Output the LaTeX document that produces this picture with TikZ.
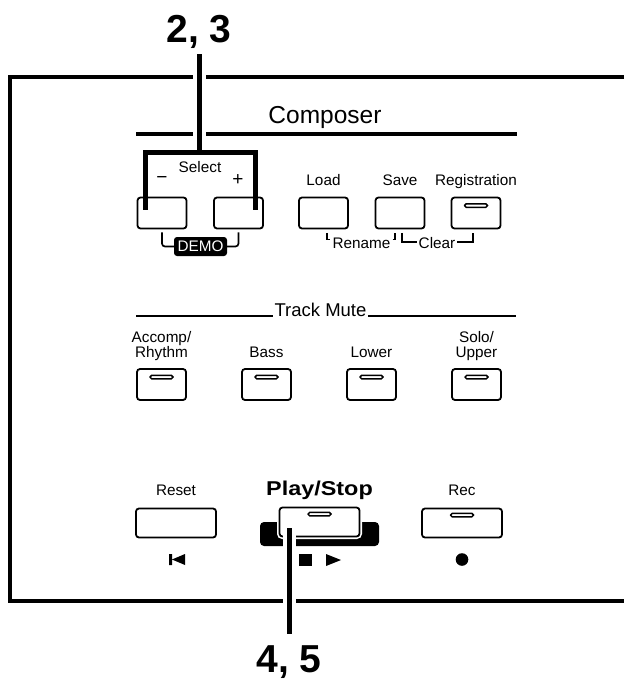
\documentclass[tikz,border=0pt]{standalone}
\usepackage{fontspec}
\setmainfont{Liberation Sans}
\usetikzlibrary{positioning}

\begin{document}
\begin{tikzpicture}[
  x=1pt, y=-1pt,
  lbl/.style={font=\fontsize{15.3}{15}\selectfont, inner sep=0pt, text depth=0pt, align=center},
  num/.style={font=\fontsize{39}{40}\selectfont\bfseries, inner sep=0pt, text depth=0pt},
  btn/.style={draw, line width=1.8pt, rounded corners=3pt, fill=white, inner sep=0pt,
              minimum width=49pt, minimum height=31pt},
  wide/.style={btn, minimum width=80pt, minimum height=29pt},
  led/.style={draw, line width=1.5pt, rounded corners=1.7pt, fill=white, inner sep=0pt,
              minimum width=23pt, minimum height=3.5pt},
  hook/.style={line width=1.5pt},
  leader/.style={line width=5pt},
  halo/.style={draw=white, line width=13pt}
]
\useasboundingbox (0,0) rectangle (624,679);

\draw[line width=4pt] (624,77) -| (10,601) -- (624,601);

\node[font=\fontsize{24.5}{25}\selectfont, inner sep=0pt, anchor=base] (composer) at (325,123.3) {Composer};
\draw[line width=3.5pt] (136,134) -- (517,134);

\node[btn] (selminus) at (162,213) {};
\node[btn] (selplus) at (238.5,213) {};
\node[btn] (load) at (323.5,213) {};
\node[btn] (save) at (400,213) {};
\node[btn] (regist) at (476,213) {};
\node[led, below=6.5pt of regist.north] (registled) {};

\node[lbl, anchor=base] (select) at (200,172) {Select};
\node[lbl, font=\fontsize{19}{19}\selectfont] (minus) at (162,180) {−};
\node[lbl, font=\fontsize{19}{19}\selectfont] (plus) at (238,180) {+};
\node[lbl, above=10.5pt of load] (loadlbl) {Load};
\node[lbl, above=10.5pt of save] (savelbl) {Save};
\node[lbl, above=10.5pt of regist] (registlbl) {Registration};

\node[lbl, fill=black, text=white, rounded corners=3pt, minimum width=53pt, minimum height=19pt]
  (demo) at (200.5,246.5) {DEMO};
\draw[line width=1.7pt, rounded corners=3pt] ([yshift=-3pt]selminus.south) |- (demo.west);
\draw[line width=1.7pt, rounded corners=3pt] ([yshift=-3pt]selplus.south) |- (demo.east);

\node[lbl, inner xsep=2pt, anchor=base] (rename) at (361.5,248) {Rename};
\node[lbl, inner xsep=2pt, anchor=base] (clear) at (437,248) {Clear};
\draw[hook] ([xshift=3.5pt,yshift=-3.5pt]load.south) |- ([yshift=8.7pt]rename.base west);
\draw[hook] ([yshift=8.7pt]rename.base east) -| ([xshift=-5pt,yshift=-3.5pt]save.south);
\draw[hook] ([xshift=2pt,yshift=-3.5pt]save.south) |- ([yshift=6pt]clear.base west);
\draw[hook] ([yshift=6pt]clear.base east) -| ([xshift=-3pt,yshift=-3.5pt]regist.south);

\node[font=\fontsize{18.5}{19}\selectfont, inner xsep=1.5pt, inner ysep=0pt, anchor=base]
  (trackmute) at (320.5,316) {Track Mute};
\draw[line width=1.3pt] (136,316) -- (trackmute.base west);
\draw[line width=1.3pt] (trackmute.base east) -- (516,316);

\node[btn] (accomp) at (161.5,384.5) {};
\node[btn, right=54.2pt of accomp] (bass) {};
\node[btn, right=54.2pt of bass] (lower) {};
\node[btn, right=54.2pt of lower] (upper) {};
\foreach \b in {accomp,bass,lower,upper}
  \node[led, below=6.5pt of \b.north] (\b-led) {};
\node[lbl, above=10.5pt of accomp] (accomplbl) {Accomp/\\Rhythm};
\node[lbl, above=10.5pt of bass] (basslbl) {Bass};
\node[lbl, above=10.5pt of lower] (lowerlbl) {Lower};
\node[lbl, above=10.5pt of upper] (upperlbl) {Solo/\\Upper};

\node[fill=black, rounded corners=4pt, minimum width=119pt, minimum height=24pt, inner sep=0pt]
  (playbase) at (319.5,534) {};
\node[wide, preaction={draw=white, line width=5pt}] (play) at (319.5,522) {};
\node[wide] (reset) at (176,523) {};
\node[wide] (rec) at (462,523) {};
\node[led, below=5pt of play.north] (playled) {};
\node[led, below=5pt of rec.north] (recled) {};
\node[lbl, above=11.5pt of reset] (resetlbl) {Reset};
\node[lbl, above=11.5pt of rec] (reclbl) {Rec};
\node[lbl, font=\fontsize{20}{20}\selectfont\bfseries, above=11pt of play] (playlbl)
  {\scalebox{1.17}[1]{Play/Stop}};

\fill (169,554) rectangle (172,565) (172,559.5) -- (185,554) -- (185,565) -- cycle;
\fill (299,554) rectangle (311.5,565.5);
\fill (326,554) -- (341,560) -- (326,566) -- cycle;
\fill (462,559.5) circle[radius=6.3pt];

\node[num, anchor=base] (step23) at (199,43) {2, 3};
\node[num, anchor=base] (step45) at (289,672) {4, 5};
\coordinate (junc) at (199,153);
\coordinate (legL) at ([xshift=9pt,yshift=-13pt]selminus.north west);
\coordinate (legR) at ([xshift=-8pt,yshift=-13pt]selplus.north east);
\coordinate (tip45) at ([xshift=-30.5pt,yshift=-6pt]play.center);

\draw[halo, shorten <=11pt] (step23.south) -- (junc);
\draw[leader, shorten <=11pt] (step23.south) -- (junc);
\draw[leader] (legL) |- (junc) -| (legR);
\draw[halo, shorten >=11pt] (tip45) -- (step45.north);
\draw[leader, shorten >=11pt] (tip45) -- (step45.north);
\end{tikzpicture}
\end{document}
